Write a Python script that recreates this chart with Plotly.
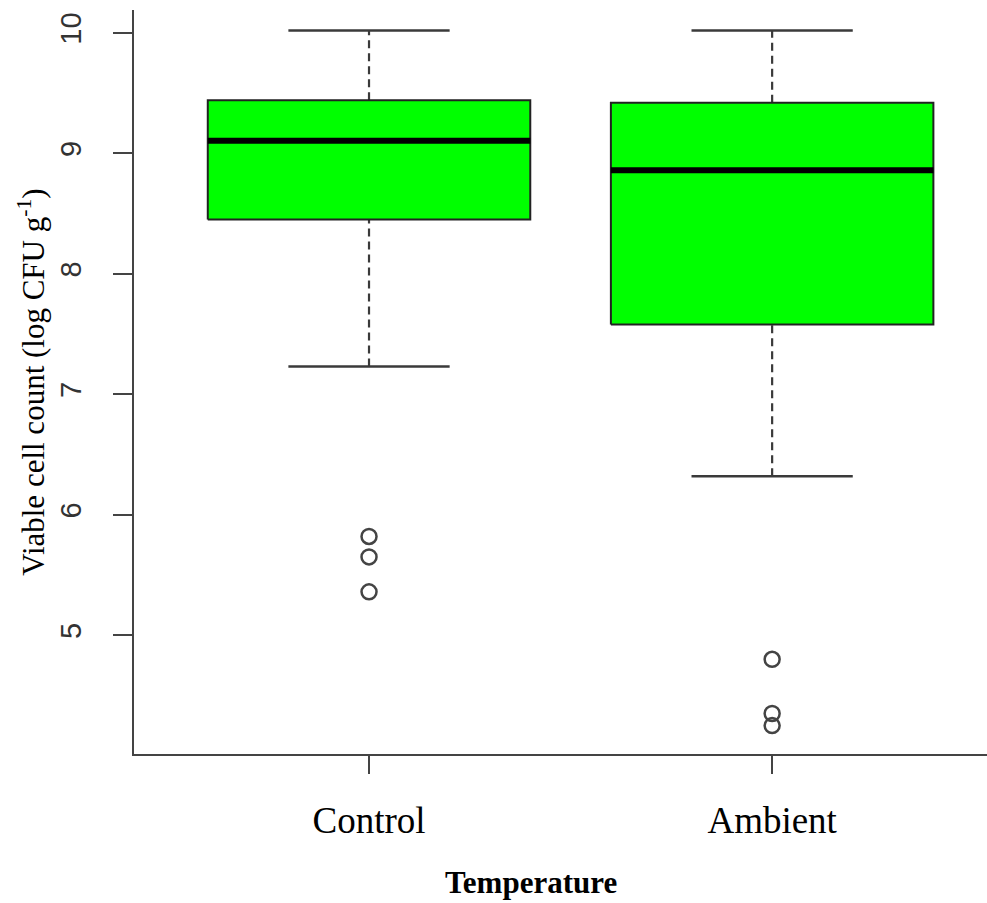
import plotly.graph_objects as go

# Box-plot summary per temperature group
groups = ["Control", "Ambient"]
positions = [1, 2]
upper_whisker = [10.02, 10.02]
q3 = [9.44, 9.42]
median = [9.105, 8.86]
q1 = [8.45, 7.58]
lower_whisker = [7.23, 6.32]
outliers = [[5.82, 5.65, 5.36], [4.80, 4.35, 4.25]]

y_ticks = [5, 6, 7, 8, 9, 10]

BOX_HALF = 0.4
CAP_HALF = 0.2
LINE_COL = "#3a3a3a"

fig = go.Figure()

for pos, hi, top, mid, bot, lo, outs in zip(
    positions, upper_whisker, q3, median, q1, lower_whisker, outliers
):
    # dashed whiskers
    for a, b in ((top, hi), (lo, bot)):
        fig.add_trace(go.Scatter(
            x=[pos, pos], y=[a, b], mode="lines",
            line=dict(color=LINE_COL, width=2.2, dash="8px,5px"),
            hoverinfo="skip", showlegend=False))
    # whisker caps
    for v in (hi, lo):
        fig.add_trace(go.Scatter(
            x=[pos - CAP_HALF, pos + CAP_HALF], y=[v, v], mode="lines",
            line=dict(color=LINE_COL, width=2.5),
            hoverinfo="skip", showlegend=False))
    # box body
    fig.add_trace(go.Scatter(
        x=[pos - BOX_HALF, pos + BOX_HALF, pos + BOX_HALF, pos - BOX_HALF, pos - BOX_HALF],
        y=[bot, bot, top, top, bot], mode="lines", fill="toself",
        fillcolor="#00ff00", line=dict(color="#222222", width=2),
        hoverinfo="skip", showlegend=False))
    # median
    fig.add_trace(go.Scatter(
        x=[pos - BOX_HALF, pos + BOX_HALF], y=[mid, mid], mode="lines",
        line=dict(color="#000000", width=6),
        hoverinfo="skip", showlegend=False))
    # outliers
    fig.add_trace(go.Scatter(
        x=[pos] * len(outs), y=outs, mode="markers",
        marker=dict(symbol="circle-open", size=15,
                    line=dict(color="#444444", width=2.5), color="#444444"),
        hoverinfo="skip", showlegend=False))

fig.update_layout(
    width=987, height=903,
    margin=dict(l=134, r=0, t=10, b=149),
    paper_bgcolor="white", plot_bgcolor="white",
    xaxis=dict(
        range=[0.417, 2.533],
        tickmode="array", tickvals=positions, ticktext=groups,
        showline=True, linecolor="#444444", linewidth=2,
        ticks="outside", ticklen=18, tickwidth=2, tickcolor="#444444",
        showgrid=False, zeroline=False,
        tickfont=dict(family="Liberation Serif", size=37, color="#000000"),
        ticklabelstandoff=15,
    ),
    yaxis=dict(
        range=[4.014, 10.19],
        tickmode="array", tickvals=y_ticks,
        showline=True, linecolor="#444444", linewidth=2,
        ticks="outside", ticklen=19, tickwidth=2, tickcolor="#444444",
        showgrid=False, zeroline=False,
        tickangle=-90,
        tickfont=dict(family="Liberation Sans", size=29, color="#333333"),
        ticklabelstandoff=20,
        title=dict(text="Viable cell count (log CFU g<sup>-1</sup>)",
                   font=dict(family="Liberation Serif", size=31, color="#000000"),
                   standoff=2),
    ),
    annotations=[dict(
        text="<b>Temperature</b>", xref="paper", yref="paper",
        x=(531 - 134) / 853, y=-(882 - 754) / 744,
        xanchor="center", yanchor="middle", showarrow=False,
        font=dict(family="Liberation Serif", size=31, color="#000000"),
    )],
)

fig.write_html("out.html")
